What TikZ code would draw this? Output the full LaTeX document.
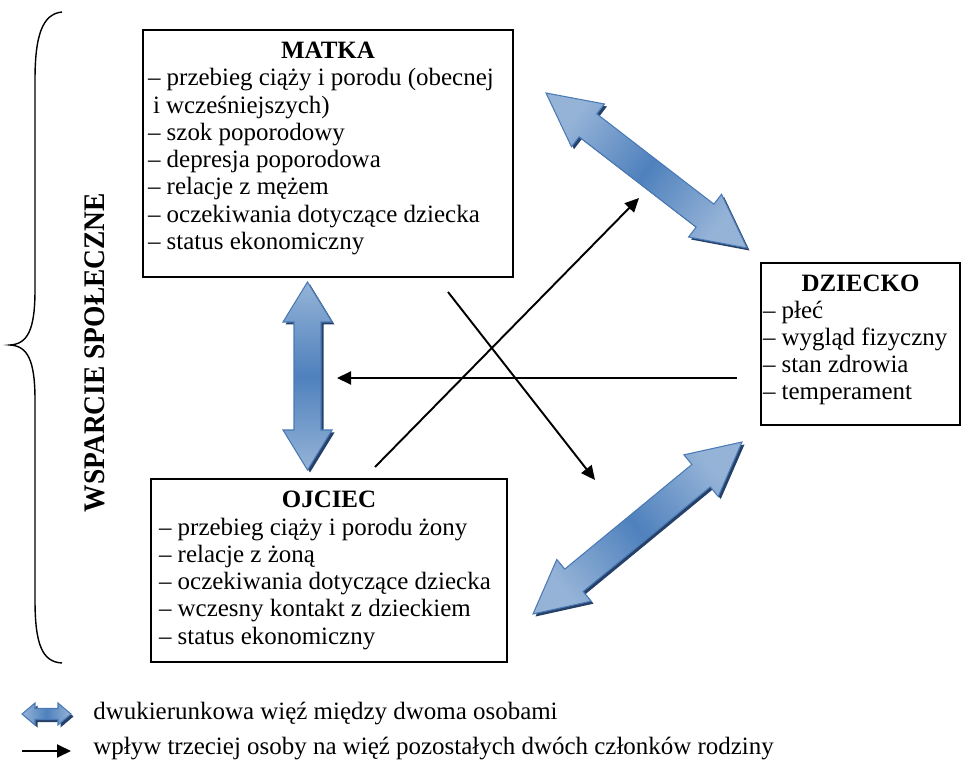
\documentclass[tikz,border=0pt]{standalone}
\usepackage{fontspec}
\setmainfont{Liberation Serif}
\usepackage{tikz}
\usetikzlibrary{arrows.meta,calc,shadows}

\definecolor{bondlight}{RGB}{149,179,215}
\definecolor{bondmid}{RGB}{79,129,189}
\definecolor{bondline}{RGB}{74,122,182}
\definecolor{bondshadow}{RGB}{38,64,104}

% double block arrow: ends, shading angle, head length, head half width, shaft half width
\newcommand{\bondarrow}[6]{%
  \path[bond,shading angle=#3] (#1)
    -- ($(#1)!#4!(#2)!#5!-90:(#2)$) -- ($(#1)!#4!(#2)!#6!-90:(#2)$)
    -- ($(#2)!#4!(#1)!#6!90:(#1)$) -- ($(#2)!#4!(#1)!#5!90:(#1)$)
    -- (#2)
    -- ($(#2)!#4!(#1)!#5!-90:(#1)$) -- ($(#2)!#4!(#1)!#6!-90:(#1)$)
    -- ($(#1)!#4!(#2)!#6!90:(#2)$) -- ($(#1)!#4!(#2)!#5!90:(#2)$)
    -- cycle;}

\begin{document}
\begin{tikzpicture}[
      x=1cm,y=1cm,
      box/.style={draw=black,line width=.8pt,align=flush left,inner ysep=0pt,
        font=\fontsize{14.2pt}{15.5pt}\selectfont},
      infl/.style={-{Triangle[length=2.8mm,width=2.6mm]},line width=1.1pt},
      bond/.style={draw=bondline,line width=.6pt,top color=bondlight,bottom color=bondlight,
        middle color=bondmid,
        drop shadow={shadow xshift=.05cm,shadow yshift=-.05cm,fill=bondshadow,opacity=1}},
      legend/.style={anchor=west,inner sep=0pt,font=\fontsize{14.2pt}{15.5pt}\selectfont}]
    \useasboundingbox (0,0) rectangle (19.22,-15.22);

    \node[box,text width=7.2cm,inner xsep=.1cm,minimum height=4.94cm] (matka) at (6.56,-3.07)
      {\makebox[\linewidth]{\textbf{MATKA}}\\
       – przebieg ciąży i porodu (obecnej\\
       \hspace*{.1cm}i wcześniejszych)\\
       – szok poporodowy\\
       – depresja poporodowa\\
       – relacje z mężem\\
       – oczekiwania dotyczące dziecka\\
       – status ekonomiczny\rule[-.31cm]{0pt}{0pt}};
    \node[box,text width=3.9cm,inner xsep=.04cm,minimum height=3.24cm] (dziecko) at (17.21,-6.88)
      {\makebox[\linewidth]{\textbf{DZIECKO}}\\
       – płeć\\
       – wygląd fizyczny\\
       – stan zdrowia\\
       – temperament\rule[-.27cm]{0pt}{0pt}};
    \node[box,text width=6.8cm,inner xsep=.16cm,minimum height=3.66cm] (ojciec) at (6.58,-11.41)
      {\makebox[\linewidth]{\textbf{OJCIEC}}\\
       – przebieg ciąży i porodu żony\\
       – relacje z żoną\\
       – oczekiwania dotyczące dziecka\\
       – wczesny kontakt z dzieckiem\\
       – status ekonomiczny};

    % social support
    \draw[line width=.8pt] (1.24,-.24) .. controls (.85,-.28) and (.70,-.7) .. (.70,-1.6)
      -- (.70,-5.8) .. controls (.70,-6.6) and (.55,-6.88) .. (.2,-6.9)
      .. controls (.55,-6.92) and (.70,-7.2) .. (.70,-8.0)
      -- (.70,-12.0) .. controls (.70,-12.9) and (.85,-13.24) .. (1.24,-13.26);
    \node[rotate=90,xscale=.92,font=\bfseries\fontsize{17pt}{19pt}\selectfont] (wsparcie) at (1.9,-7.05)
      {WSPARCIE SPOŁECZNE};

    % two-way bonds
    \coordinate (mo1) at (6.15,-5.64);
    \coordinate (mo2) at (6.15,-9.40);
    \coordinate (md1) at (10.92,-1.86);
    \coordinate (md2) at (14.94,-4.96);
    \coordinate (od1) at (10.66,-12.28);
    \coordinate (od2) at (14.84,-8.84);
    \bondarrow{mo1}{mo2}{0}{.8cm}{.49cm}{.27cm}
    \bondarrow{md1}{md2}{52.4}{1.06cm}{.54cm}{.29cm}
    \bondarrow{od1}{od2}{-50.6}{1.06cm}{.54cm}{.29cm}

    % third person influence
    \coordinate (dz-out) at (14.74,-7.56);
    \coordinate (mo-in) at (6.74,-7.56);
    \coordinate (oj-out) at (7.5,-9.34);
    \coordinate (md-in) at (12.78,-3.96);
    \coordinate (ma-out) at (8.96,-5.84);
    \coordinate (od-in) at (11.9,-9.6);
    \draw[infl] (dz-out) -- (mo-in);
    \draw[infl] (oj-out) -- (md-in);
    \draw[infl] (ma-out) -- (od-in);

    % legend
    \coordinate (lg1) at (.44,-14.28);
    \coordinate (lg2) at (1.42,-14.28);
    \bondarrow{lg1}{lg2}{90}{.26cm}{.22cm}{.11cm}
    \node[legend] (lgbond) at (1.86,-14.28) {dwukierunkowa więź między dwoma osobami};
    \coordinate (lg3) at (.44,-15.02);
    \coordinate (lg4) at (1.42,-15.02);
    \draw[infl] (lg3) -- (lg4);
    \node[legend] (lginfl) at (1.86,-14.98) {wpływ trzeciej osoby na więź pozostałych dwóch członków rodziny};
  \end{tikzpicture}
\end{document}
